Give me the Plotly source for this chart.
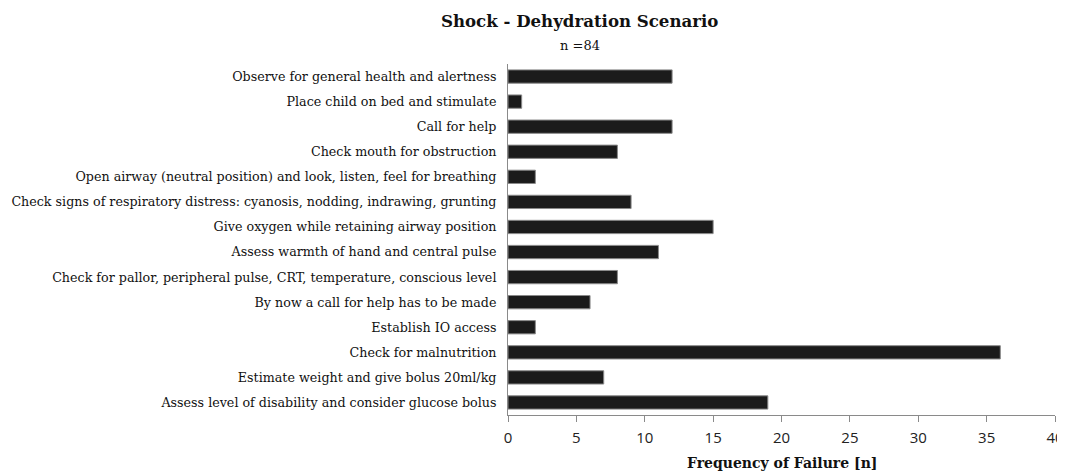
import plotly.graph_objects as go

categories = [
    "Observe for general health and alertness",
    "Place child on bed and stimulate",
    "Call for help",
    "Check mouth for obstruction",
    "Open airway (neutral position) and look, listen, feel for breathing",
    "Check signs of respiratory distress: cyanosis, nodding, indrawing, grunting",
    "Give oxygen while retaining airway position",
    "Assess warmth of hand and central pulse",
    "Check for pallor, peripheral pulse, CRT, temperature, conscious level",
    "By now a call for help has to be made",
    "Establish IO access",
    "Check for malnutrition",
    "Estimate weight and give bolus 20ml/kg",
    "Assess level of disability and consider glucose bolus",
]
failures = [12, 1, 12, 8, 2, 9, 15, 11, 8, 6, 2, 36, 7, 19]
x_ticks = [0, 5, 10, 15, 20, 25, 30, 35, 40]

title_text = "Shock - Dehydration Scenario"
subtitle_text = "n =84"
x_title = "Frequency of Failure [n]"

serif = "DejaVu Serif"

fig = go.Figure(
    go.Bar(
        x=failures,
        y=categories,
        orientation="h",
        marker=dict(color="#1b1b1b", line=dict(color="#8a8a8a", width=1)),
        hoverinfo="x+y",
    )
)

fig.update_layout(
    width=1065,
    height=472,
    margin=dict(l=500, r=18, t=56, b=65, autoexpand=False),
    paper_bgcolor="white",
    plot_bgcolor="white",
    bargap=0.47,
    showlegend=False,
    annotations=[
        dict(text="<b>" + title_text + "</b>", x=0.1316, y=1, xref="paper", yref="paper",
             xanchor="center", yanchor="middle", yshift=43,
             showarrow=False, font=dict(family=serif, size=16.6, color="#111")),
        dict(text=subtitle_text, x=0.1316, y=1, xref="paper", yref="paper",
             xanchor="center", yanchor="middle", yshift=19,
             showarrow=False, font=dict(family=serif, size=13, color="#111")),
        dict(text="<b>" + x_title + "</b>", x=0.5, y=0, xref="paper", yref="paper",
             xanchor="center", yanchor="middle", yshift=-48,
             showarrow=False, font=dict(family=serif, size=14, color="#111")),
    ],
)

fig.update_xaxes(
    range=[0, 40],
    tickvals=x_ticks,
    ticks="outside",
    ticklen=6,
    tickcolor="#8a8a8a",
    showline=True,
    linecolor="#8a8a8a",
    linewidth=1,
    showgrid=False,
    zeroline=False,
    automargin=False,
    ticklabelstandoff=3,
    tickfont=dict(family="Open Sans", size=15, color="#222"),
)
fig.update_yaxes(
    autorange="reversed",
    showline=True,
    linecolor="#8a8a8a",
    linewidth=1,
    showgrid=False,
    ticks="",
    automargin=False,
    ticklabelstandoff=8,
    tickfont=dict(family=serif, size=12.7, color="#111"),
)

fig.write_html("out.html")
